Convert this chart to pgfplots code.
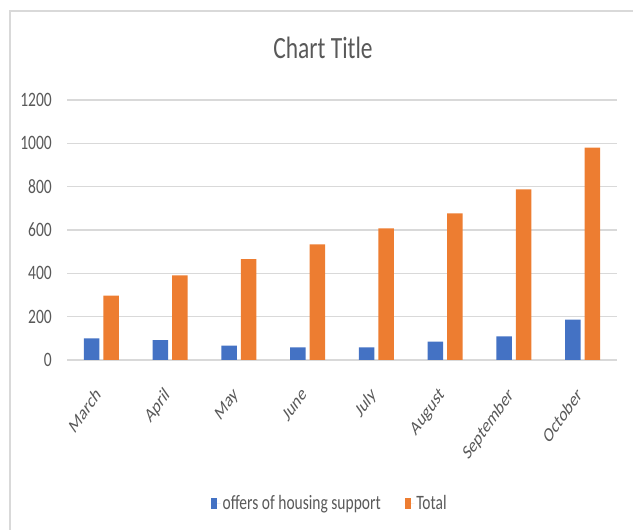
\documentclass[border=0pt]{standalone}
\usepackage{fontspec}
\setmainfont{Carlito}[FakeStretch=0.76]
\newfontfamily\labelfont{Carlito}
\usepackage{pgfplots}
\pgfplotsset{compat=1.18}
\definecolor{xlblue}{HTML}{4472C4}
\definecolor{xlorange}{HTML}{ED7D31}
\definecolor{xlgrid}{HTML}{D9D9D9}
\definecolor{xltext}{HTML}{595959}
\begin{document}
\begin{tikzpicture}
\path[use as bounding box] (0,0) rectangle (633bp,530bp);
\draw[xlgrid, line width=1.5bp] (10bp,0) -- (10bp,519bp) -- (633bp,519bp);
\node[text=xltext, font=\fontsize{31}{36}\selectfont] at (323bp,482bp) {Chart Title};
\begin{axis}[
    at={(67bp,170bp)}, anchor=south west,
    scale only axis, width=550bp, height=260bp,
    ybar=4bp, bar width=15.5bp,
    xmin=-0.5, xmax=7.5, ymin=0, ymax=1200,
    ytick={0,200,400,600,800,1000,1200},
    xtick=data,
    xticklabels={March,April,May,June,July,August,September,October},
    axis line style={draw=none},
    major tick length=0pt,
    ymajorgrids,
    major grid style={xlgrid, line width=1.3bp},
    /pgf/number format/assume math mode=true,
    /pgf/number format/1000 sep={},
    yticklabel style={font=\fontsize{20.5}{24}\selectfont, text=xltext, anchor=east, inner sep=0pt, xshift=-15bp},
    xticklabel style={font=\labelfont\fontsize{20.5}{24}\selectfont, text=xltext, anchor=north east, inner sep=0pt,
        xshift=-7bp, yshift=-26bp, cm={0.5,0.707,-0.5,0.707,(0,0)}},
    legend columns=2,
    legend style={at={(0.478,-0.55)}, anchor=center, draw=none, fill=none,
        font=\fontsize{20.5}{24}\selectfont, text=xltext,
        /tikz/every even column/.append style={column sep=22bp}},
    legend image code/.code={\fill[#1] (0bp,-5.5bp) rectangle (6bp,5.5bp);
        \path (0bp,0bp) -- (9.5bp,0bp);},
]
\addplot[fill=xlblue, draw=none] coordinates {
    (0,100) (1,92) (2,66) (3,58) (4,58) (5,85) (6,109) (7,186)
};
\addplot[fill=xlorange, draw=none] coordinates {
    (0,297) (1,390) (2,465) (3,534) (4,608) (5,677) (6,788) (7,980)
};
\legend{offers of housing support, Total}
\end{axis}
\end{tikzpicture}
\end{document}
